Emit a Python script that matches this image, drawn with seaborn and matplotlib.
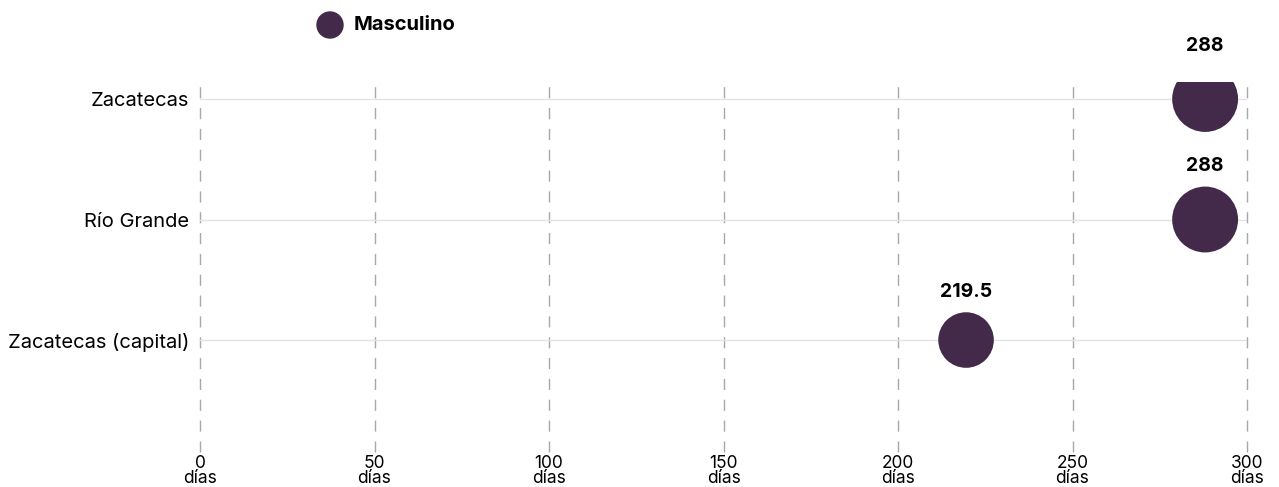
import matplotlib
matplotlib.use("Agg")
import matplotlib.pyplot as plt
import seaborn as sns
import pandas as pd
import numpy as np

categories = ["Zacatecas", "Río Grande", "Zacatecas (capital)"]
values = [288, 288, 219.5]
series = "Masculino"
xticks = [0, 50, 100, 150, 200, 250, 300]
xtick_labels = [f"{t}\ndías" for t in xticks]

color = "#432a4a"

sns.set_theme(style="white")
plt.rcParams['font.family'] = ['Inter', 'DejaVu Sans']

df = pd.DataFrame({"municipio": categories, "dias": values, "serie": series})
df["pos"] = range(len(categories))

size_min, size_max = 1600, 2250
fig = plt.figure(figsize=(12.79, 4.87), dpi=100)
ax = fig.add_axes([200/1279, 1-452/487, 1047/1279, 370/487])

sns.scatterplot(data=df, x="dias", y="pos", size="dias", sizes=(size_min, size_max),
                size_norm=(219.5, 288), color=color, edgecolor="none",
                legend=False, ax=ax, zorder=3)

ax.set_xlim(0, 300)
ax.set_ylim(2.929, -0.141)

for p in df["pos"]:
    ax.axhline(p, color="#e3e3e3", lw=1, zorder=1)
for t in xticks:
    ax.axvline(t, color="#a8a8a8", lw=1, ls=(0, (8, 7)), zorder=0, clip_on=False)

for _, r in df.iterrows():
    lab = f"{r['dias']:g}"
    s = size_min + (r["dias"] - 219.5) / (288 - 219.5) * (size_max - size_min)
    radius_pt = np.sqrt(s) / 2
    ax.annotate(lab, (r["dias"], r["pos"]), xytext=(0, radius_pt + 8), textcoords="offset points",
                ha="center", va="bottom", fontsize=14, fontweight="bold", color="black")

ax.set_xticks(xticks)
ax.set_xticklabels(xtick_labels, fontsize=12.5, linespacing=0.88, color="black")
ax.set_yticks(list(df["pos"]))
ax.set_yticklabels(categories, fontsize=14.5, color="black")
ax.tick_params(axis="x", length=0, pad=2)
ax.tick_params(axis="y", length=0, pad=8)
ax.set_xlabel("")
ax.set_ylabel("")
for s in ax.spines.values():
    s.set_visible(False)

fig.patches.append(matplotlib.patches.Ellipse((330/1279, 1-25/487), 26/1279, 26/487,
                                              transform=fig.transFigure, color=color))
fig.text(354/1279, 1-25/487, series, fontsize=14.5, fontweight="bold", va="center", ha="left",
         color="black")

fig.savefig("out.png", dpi=100)
